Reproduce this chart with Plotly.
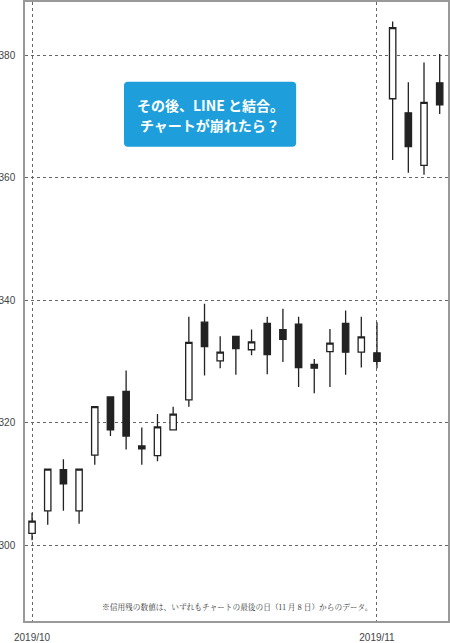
import plotly.graph_objects as go

# daily candles, 2019/10/01 .. (category positions)
idx = list(range(27))
opens = [301.9, 305.6, 312.3, 305.6, 314.7, 324.2, 325.1, 316.2, 314.6, 318.8,
         323.7, 336.4, 330.1, 334.1, 331.9, 336.2, 335.2, 336.1, 329.5, 331.6,
         336.2, 331.5, 331.4, 372.9, 370.6, 362.0, 375.5]
highs = [305.3, 312.4, 314.0, 312.4, 322.6, 324.2, 328.5, 319.2, 321.4, 322.6,
         337.3, 339.4, 334.1, 334.1, 335.2, 337.3, 338.6, 337.3, 330.4, 335.3,
         338.3, 337.3, 336.4, 385.5, 375.6, 378.8, 380.2]
lows = [300.8, 303.3, 305.6, 303.5, 313.1, 317.8, 315.6, 313.1, 313.7, 318.8,
        322.6, 327.7, 328.9, 327.8, 331.0, 327.9, 329.9, 325.8, 324.8, 325.8,
        327.8, 329.0, 328.9, 362.9, 360.8, 360.5, 370.4]
closes = [303.9, 312.4, 310.0, 312.4, 322.6, 318.8, 317.8, 315.7, 319.3, 321.4,
          333.1, 332.4, 331.5, 332.1, 333.2, 331.1, 333.6, 329.0, 328.9, 333.0,
          331.5, 334.0, 330.0, 384.5, 365.1, 372.3, 371.9]

month_pos = [0, 22]
month_labels = ["2019/10", "2019/11"]
y_ticks = [300, 320, 340, 360, 380]

callout_lines = ["その後、LINE と結合。", "チャートが崩れたら？"]
footnote = "※信用残の数値は、いずれもチャートの最後の日（11 月 8 日）からのデータ。"

fig = go.Figure(
    data=[
        go.Candlestick(
            x=idx, open=opens, high=highs, low=lows, close=closes,
            increasing={'fillcolor': 'white', 'line': {'color': '#222', 'width': 1.3}},
            decreasing={'fillcolor': '#222', 'line': {'color': '#222', 'width': 1.3}},
            whiskerwidth=0,
            showlegend=False,
            hoverinfo='skip',
        )
    ]
)

# rounded blue call-out box (paper coords)
x0, x1, y0, y1 = 0.234, 0.641, 0.766, 0.871
rx, ry = 0.0095, 0.0065
path = (f"M {x0+rx},{y0} L {x1-rx},{y0} Q {x1},{y0} {x1},{y0+ry} "
        f"L {x1},{y1-ry} Q {x1},{y1} {x1-rx},{y1} "
        f"L {x0+rx},{y1} Q {x0},{y1} {x0},{y1-ry} "
        f"L {x0},{y0+ry} Q {x0},{y0} {x0+rx},{y0} Z")

notes = []
for i, line in enumerate(callout_lines):
    notes.append(dict(
        text=f"<b>{line}</b>", xref='paper', yref='paper',
        x=(x0 + x1) / 2, y=0.834 - i * 0.033, yanchor='middle',
        showarrow=False,
        font={'family': 'Noto Sans CJK JP', 'size': 14, 'color': 'white'},
    ))
notes.append(dict(
    text=footnote, xref='paper', yref='paper', x=0.5, y=0.024,
    showarrow=False, yanchor='middle',
    font={'family': 'Noto Serif CJK JP, Noto Sans CJK JP', 'size': 7.7, 'color': '#333'},
))

fig.update_layout(
    width=450, height=643,
    margin={'l': 25, 'r': 2, 't': 2, 'b': 22},
    paper_bgcolor='white', plot_bgcolor='white',
    boxgap=0.42,
    font={'family': 'Liberation Sans, Arial', 'size': 10, 'color': '#444'},
    xaxis={
        'range': [-0.45, 26.53],
        'rangeslider': {'visible': False},
        'tickmode': 'array', 'tickvals': month_pos, 'ticktext': month_labels,
        'showgrid': True, 'gridcolor': '#666', 'griddash': 'dot', 'gridwidth': 1,
        'showline': True, 'mirror': True, 'linecolor': '#999', 'linewidth': 1.5,
        'ticks': '', 'ticklabelstandoff': 6, 'automargin': False,
        'zeroline': False,
    },
    yaxis={
        'range': [287.6, 388.7],
        'tickmode': 'array', 'tickvals': y_ticks,
        'showgrid': True, 'gridcolor': '#666', 'griddash': 'dot', 'gridwidth': 1,
        'showline': True, 'mirror': True, 'linecolor': '#999', 'linewidth': 1.5,
        'ticks': '', 'ticklabelstandoff': 6, 'automargin': False,
        'zeroline': False,
    },
    shapes=[
        dict(type='path', xref='paper', yref='paper', path=path,
             fillcolor='#1e9fdc', line={'width': 0}, layer='below'),
    ],
    annotations=notes,
)

# the page's default body margin would shift the figure by 8px
fig.write_html("out.html", config={'displayModeBar': False},
               post_script="document.body.style.margin='0';")
